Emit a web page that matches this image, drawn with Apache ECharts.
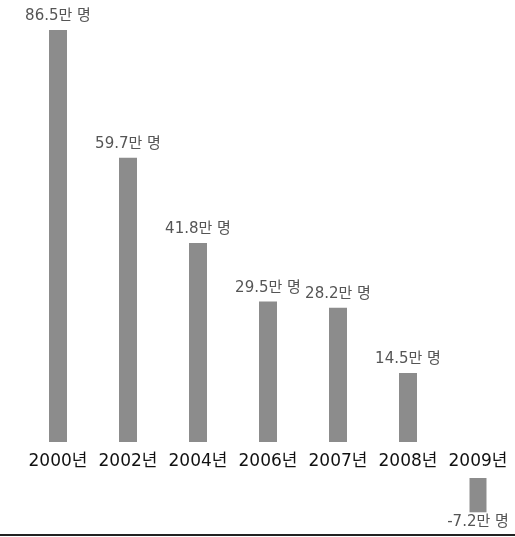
<!DOCTYPE html>
<html>
<head>
<meta charset="utf-8">
<script src="https://cdn.jsdelivr.net/npm/echarts@6/dist/echarts.min.js"></script>
<style>
  html, body { margin: 0; padding: 0; background: #fff; }
  #chart { width: 515px; height: 537px; }
</style>
</head>
<body>
<div id="chart"></div>
<script>
// 연도별 값 (단위: 만 명)
const years = ['2000년', '2002년', '2004년', '2006년', '2007년', '2008년', '2009년'];
const values = [86.5, 59.7, 41.8, 29.5, 28.2, 14.5, -7.2];
const unit = '만 명';

const chart = echarts.init(document.getElementById('chart'));

const maxV = Math.max(...values);
const minV = Math.min(...values);
const mainTop = 30;
const mainHeight = 412;
// the negative part sits below the category labels, on the same scale
const negHeight = (-minV) / maxV * mainHeight;

const posData = values.map(v => (v >= 0 ? v : null));
const negData = values.map(v => (v < 0 ? v : null));

const barColor = '#8c8c8c';
const valueLabel = {
  show: true,
  color: '#555',
  fontSize: 15,
  fontFamily: 'DejaVu Sans, Noto Sans CJK KR, sans-serif',
  formatter: p => p.value + unit
};

chart.setOption({
  animation: false,
  backgroundColor: '#fff',
  grid: [
    { left: 23, width: 490, top: mainTop, height: mainHeight },
    { left: 23, width: 490, top: 478, height: negHeight }
  ],
  xAxis: [
    {
      gridIndex: 0, type: 'category', data: years,
      axisLine: { show: false }, axisTick: { show: false },
      axisLabel: {
        color: '#111', fontSize: 17, margin: 11,
        fontFamily: 'DejaVu Sans, Noto Sans CJK KR, sans-serif',
        interval: 0
      }
    },
    {
      gridIndex: 1, type: 'category', data: years,
      axisLine: { show: false }, axisTick: { show: false },
      axisLabel: { show: false }
    }
  ],
  yAxis: [
    { gridIndex: 0, type: 'value', min: 0, max: maxV, show: false, splitLine: { show: false } },
    { gridIndex: 1, type: 'value', min: minV, max: 0, show: false, splitLine: { show: false } }
  ],
  series: [
    {
      type: 'bar', xAxisIndex: 0, yAxisIndex: 0, data: posData,
      barWidth: 18, itemStyle: { color: barColor },
      label: Object.assign({ position: 'top', distance: 6 }, valueLabel)
    },
    {
      type: 'bar', xAxisIndex: 1, yAxisIndex: 1, data: negData,
      barWidth: 17, itemStyle: { color: barColor },
      label: Object.assign({ position: 'bottom', distance: 2 }, valueLabel)
    }
  ],
  graphic: [
    {
      type: 'line',
      shape: { x1: 0, y1: 535, x2: 515, y2: 535 },
      style: { stroke: '#222', lineWidth: 2 }
    }
  ]
});
</script>
</body>
</html>
